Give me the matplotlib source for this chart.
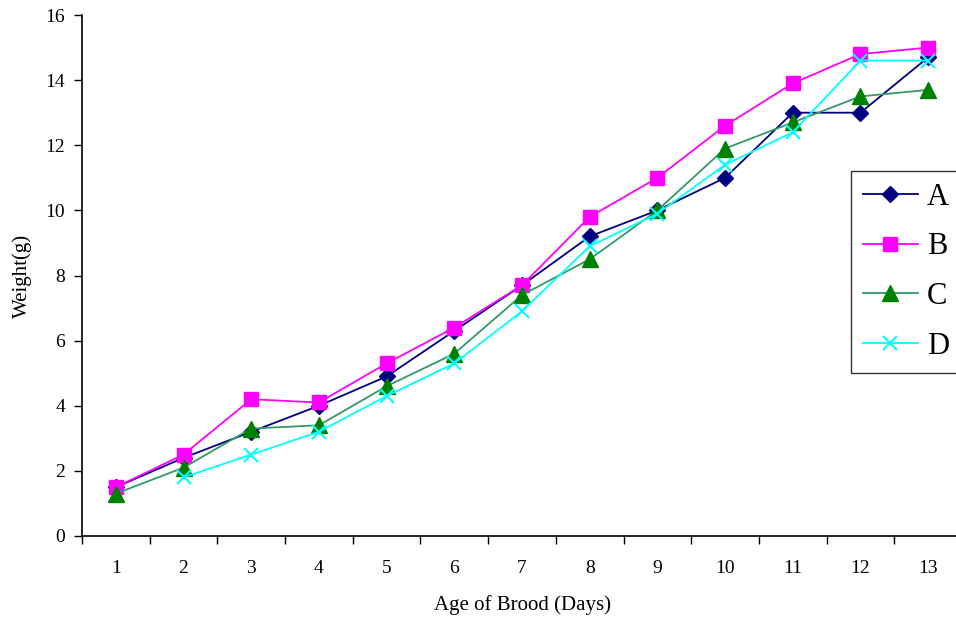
import numpy as np
import matplotlib
matplotlib.use('Agg')
import matplotlib.pyplot as plt

plt.rcParams['font.family'] = ['Liberation Serif', 'DejaVu Serif']

# age of brood (days)
days = list(range(1, 14))

# weight (g) per group (D has no value on day 1)
weight_a = [1.5, 2.4, 3.2, 4.0, 4.9, 6.3, 7.7, 9.2, 10.0, 11.0, 13.0, 13.0, 14.7]
weight_b = [1.5, 2.5, 4.2, 4.1, 5.3, 6.4, 7.7, 9.8, 11.0, 12.6, 13.9, 14.8, 15.0]
weight_c = [1.3, 2.1, 3.3, 3.4, 4.6, 5.6, 7.4, 8.5, 10.0, 11.9, 12.7, 13.5, 13.7]
weight_d = [np.nan, 1.8, 2.5, 3.2, 4.3, 5.3, 6.9, 8.9, 9.9, 11.4, 12.4, 14.6, 14.6]

y_ticks = [0, 2, 4, 6, 8, 10, 12, 14, 16]

fig = plt.figure(figsize=(9.56, 6.19), dpi=100)
ax = fig.add_axes([82/956, 1 - 536/619, 880/956, 521/619])

ax.plot(days, weight_a, color='#000080', marker='D', markersize=8, lw=1.3,
        markerfacecolor='#000080', markeredgecolor='#000080', label='A')
ax.plot(days, weight_b, color='#FF00FF', marker='s', markersize=10, lw=1.3,
        markerfacecolor='#FF00FF', markeredgecolor='#FF00FF', label='B')
ax.plot(days, weight_c, color='#339966', marker='^', markersize=11, lw=1.3,
        markerfacecolor='#008000', markeredgecolor='#008000', label='C')
ax.plot(days, weight_d, color='#00FFFF', marker='x', markersize=10, lw=1.3,
        markeredgewidth=1.5, label='D')

ax.set_xlim(0.5, 13.5)
ax.set_ylim(0, 16)
ax.set_yticks(y_ticks)
ax.set_xticks(days)
ax.set_xticks(np.arange(0.5, 14, 1), minor=True)
ax.tick_params(axis='x', which='major', length=0, pad=17, labelsize=14)
ax.tick_params(axis='x', which='minor', length=6, direction='out', width=1)
ax.tick_params(axis='y', length=6, direction='out', width=1, labelsize=14, pad=6)

for s in ['top', 'right']:
    ax.spines[s].set_visible(False)
ax.spines['left'].set_linewidth(1.2)
ax.spines['bottom'].set_linewidth(1.2)

ax.set_xlabel('Age of Brood (Days)', fontsize=15, labelpad=13)
ax.set_ylabel('Weight(g)', fontsize=15, labelpad=10)

leg = ax.legend(loc='upper left', bbox_to_anchor=(851/956, 1 - 171/619),
                bbox_transform=fig.transFigure, fontsize=22, frameon=True,
                fancybox=False, edgecolor='black', handlelength=1.8,
                labelspacing=0.68, borderpad=0.38, handletextpad=0.3,
                borderaxespad=0)
leg.get_frame().set_linewidth(1.0)

fig.savefig('out.png', dpi=100)
